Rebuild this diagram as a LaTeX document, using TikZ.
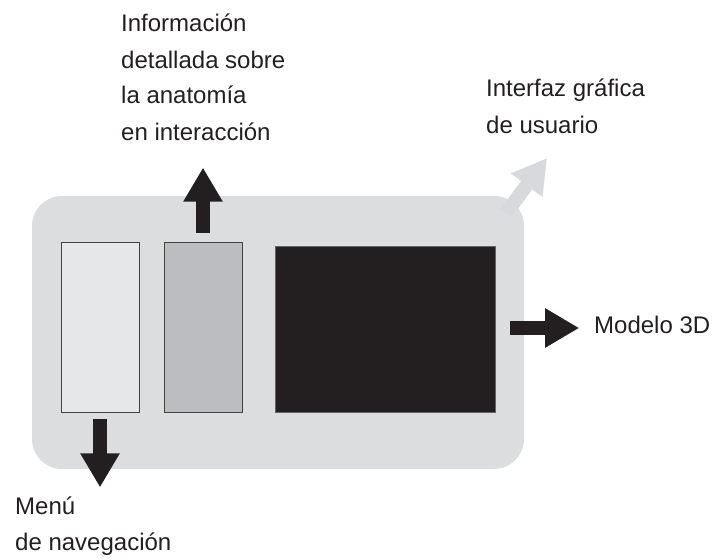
\documentclass[tikz,border=0pt]{standalone}
\usepackage{fontspec}
\setmainfont{Liberation Sans}
\usetikzlibrary{arrows.meta}
\definecolor{fondo}{HTML}{DCDDDF}
\definecolor{claro}{HTML}{E6E7E9}
\definecolor{medio}{HTML}{BCBDC1}
\definecolor{negro}{HTML}{231F20}
\definecolor{tenue}{HTML}{D8D9DC}
\tikzset{
	caja/.style={draw=negro!85,line width=0.8pt,minimum width=78pt,minimum height=170pt,inner sep=0pt},
	flecha/.style={line width=14pt,negro,-{Triangle[width=37pt,length=34pt]}},
	rotulo/.style={anchor=base west,align=left,inner sep=0pt,font=\fontsize{24}{36}\selectfont,text=negro}
}
\begin{document}
\begin{tikzpicture}[x=1pt,y=-1pt]
		\useasboundingbox (0,0) rectangle (714,559);
		% interfaz
		\node[fill=fondo,rounded corners=30pt,minimum width=492pt,minimum height=273pt,inner sep=0pt] (gui) at (278,332.5) {};
		\node[caja,fill=claro] (menu) at (100,327) {};
		\node[caja,fill=medio] (detalle) at (203,327) {};
		\node[draw=negro!70,fill=negro,minimum width=220pt,minimum height=166pt,inner sep=0pt] (modelo) at (385,329) {};
		% textos (base = ultima linea)
		\node[rotulo] (tinfo) at (121,140) {Información\\detallada sobre\\la anatomía\\en interacción};
		\node[rotulo] (tgui) at (486,133) {Interfaz gráfica\\de usuario};
		\node[rotulo] (tmodelo) at (594,333) {Modelo 3D};
		\node[rotulo] (tmenu) at (15,550) {Menú\\de navegación};
		% flechas
		\draw[flecha] ([yshift=9pt]detalle.north) -- ++(0,-65);
		\draw[flecha] ([yshift=-7pt]menu.south) -- ++(0,68);
		\draw[flecha] ([xshift=15pt,yshift=1pt]modelo.east) -- ++(69,0);
		\draw[flecha,tenue] (506,213) -- (547,158);
\end{tikzpicture}
\end{document}
